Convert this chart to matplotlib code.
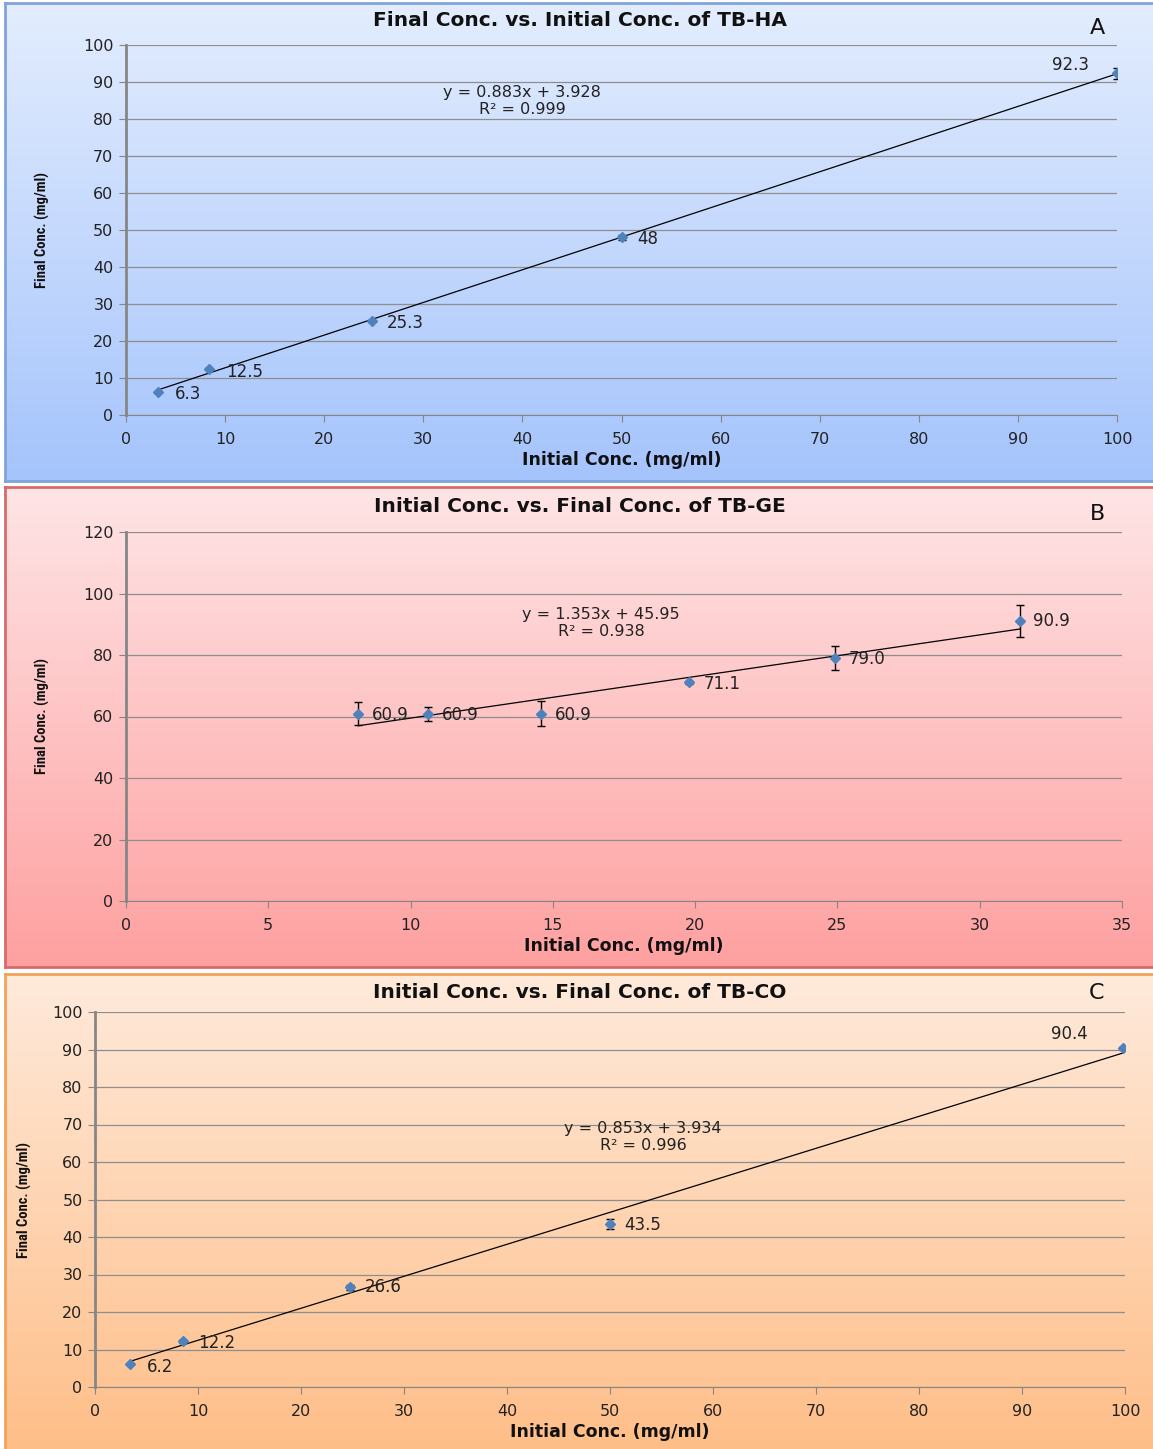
import numpy as np
import matplotlib
matplotlib.use("Agg")
import matplotlib.pyplot as plt
from matplotlib import font_manager
from matplotlib.colors import LinearSegmentedColormap

W, H = 1153, 1449

# panel A: TB-HA
x_a = [3.2, 8.4, 24.8, 50, 100]
y_a = [6.3, 12.5, 25.3, 48, 92.3]
err_a = [0.0, 0.0, 0.0, 0.6, 1.6]
fit_a = (0.883, 3.928, 0.999)
lbl_a = ["6.3", "12.5", "25.3", "48", "92.3"]

# panel B: TB-GE
x_b = [8.15, 10.6, 14.6, 19.8, 24.9, 31.4]
y_b = [60.9, 60.9, 60.9, 71.1, 79.0, 90.9]
err_b = [3.7, 2.3, 4.1, 0.5, 4.0, 5.2]
fit_b = (1.353, 45.95, 0.938)
lbl_b = ["60.9", "60.9", "60.9", "71.1", "79.0", "90.9"]

# panel C: TB-CO
x_c = [3.4, 8.5, 24.8, 50, 99.8]
y_c = [6.2, 12.2, 26.6, 43.5, 90.4]
err_c = [0.0, 0.4, 0.7, 1.3, 0.3]
fit_c = (0.853, 3.934, 0.996)
lbl_c = ["6.2", "12.2", "26.6", "43.5", "90.4"]

# narrow face for the y axis title, if one is installed
installed = {f.name for f in font_manager.fontManager.ttflist}
narrow = "DejaVu Sans"
for name in ["Liberation Sans Narrow", "DejaVu Sans Condensed", "Roboto Condensed"]:
    if name in installed:
        narrow = name
        break

fig = plt.figure(figsize=(W / 100, H / 100), dpi=100)
fig.patch.set_facecolor("white")


def frac(x0, y0, x1, y1):
    # pixel box (top-left origin) -> figure fraction rect
    return [x0 / W, 1 - y1 / H, (x1 - x0) / W, (y1 - y0) / H]


def panel_bg(box, top, bottom, edge):
    bg = fig.add_axes(frac(*box), zorder=0)
    cmap = LinearSegmentedColormap.from_list("g", [top, bottom])
    bg.imshow(np.linspace(0, 1, 256).reshape(-1, 1), aspect="auto",
              cmap=cmap, extent=[0, 1, 0, 1])
    bg.set_xticks([])
    bg.set_yticks([])
    for s in bg.spines.values():
        s.set_color(edge)
        s.set_linewidth(2)


def chart(box, xs, ys, errs, labels, fit, xlim, xticks, ylim, yticks,
          title, tag, title_y, tag_y, xlabel_y, ylabel_x, eq_pos, offsets):
    ax = fig.add_axes(frac(*box), zorder=2)
    ax.patch.set_alpha(0)
    ax.set_xlim(*xlim)
    ax.set_ylim(*ylim)
    ax.set_xticks(xticks)
    ax.set_yticks(yticks)
    ax.grid(axis="y", color="#8e8e8e", lw=0.9)
    ax.set_axisbelow(True)
    for s in ["top", "right"]:
        ax.spines[s].set_visible(False)
    ax.spines["left"].set_color("#868686")
    ax.spines["left"].set_linewidth(2)
    ax.spines["bottom"].set_color("#868686")
    ax.tick_params(axis="both", color="#868686", labelsize=11.5, length=5,
                   labelcolor="#222222")
    ax.tick_params(axis="y", pad=4)
    ax.tick_params(axis="x", pad=7)

    slope, icpt, r2 = fit
    tx = np.array([min(xs), max(xs)])
    ax.plot(tx, slope * tx + icpt, color="black", lw=0.9, zorder=3)
    ax.errorbar(xs, ys, yerr=errs, fmt="none", ecolor="black", elinewidth=1,
                capsize=3, capthick=1, zorder=4)
    ax.plot(xs, ys, "D", color="#4F81BD", markersize=5, mec="#4F81BD",
            zorder=5, ls="none")
    for x, y, t, off in zip(xs, ys, labels, offsets):
        ax.annotate(t, (x, y), xytext=off, textcoords="offset points",
                    ha="left" if off[0] > 0 else "right", va="center",
                    fontsize=12, color="#222222", zorder=6)

    eq = "y = %.3fx + %s" % (slope, ("%.3f" % icpt) if icpt < 10 else ("%.2f" % icpt))
    fig.text(eq_pos[0] / W, 1 - eq_pos[1] / H, eq, ha="center", va="center",
             fontsize=11.5, color="#222222")
    fig.text(eq_pos[0] / W, 1 - (eq_pos[1] + 17) / H, "R² = %.3f" % r2,
             ha="center", va="center", fontsize=11.5, color="#222222")

    fig.text(580 / W, 1 - title_y / H, title, ha="center", va="center",
             fontsize=14.5, fontweight="bold", color="#111111")
    fig.text(1097 / W, 1 - tag_y / H, tag, ha="center", va="center",
             fontsize=16, color="#111111")
    fig.text(((box[0] + box[2]) / 2) / W, 1 - xlabel_y / H,
             "Initial Conc. (mg/ml)", ha="center", va="center",
             fontsize=12.5, fontweight="bold", color="#111111")
    fig.text(ylabel_x / W, 1 - (box[1] + box[3]) / 2 / H, "Final Conc. (mg/ml)",
             rotation=90, ha="center", va="center", fontsize=10.5,
             family=narrow, fontweight="bold", color="#111111")
    return ax


panel_bg((5, 3, 1160, 481), "#E3EDFE", "#A5C4FC", "#7FA3DA")
panel_bg((5, 487, 1160, 967), "#FFE5E6", "#FEA0A0", "#D96A6A")
panel_bg((5, 974, 1160, 1452), "#FEEADB", "#FFBE88", "#F2A25A")

chart((126, 45, 1117, 415), x_a, y_a, err_a, lbl_a, fit_a,
      (0, 100), range(0, 101, 10), (0, 100), range(0, 101, 10),
      "Final Conc. vs. Initial Conc. of TB-HA", "A", 20, 28, 460, 42, (522, 92),
      [(12, -2), (12, -2), (11, -1), (11, -1), (-20, 6)])

chart((126, 532, 1122, 901), x_b, y_b, err_b, lbl_b, fit_b,
      (0, 35), range(0, 36, 5), (0, 120), range(0, 121, 20),
      "Initial Conc. vs. Final Conc. of TB-GE", "B", 507, 514, 946, 42, (601, 614),
      [(10, -1), (10, -1), (10, -1), (10, -1), (10, -1), (10, 0)])

chart((95, 1012, 1125, 1387), x_c, y_c, err_c, lbl_c, fit_c,
      (0, 100), range(0, 101, 10), (0, 100), range(0, 101, 10),
      "Initial Conc. vs. Final Conc. of TB-CO", "C", 993, 993, 1432, 24, (643, 1128),
      [(12, -2), (11, -1), (10, 0), (10, -1), (-25, 10)])

fig.savefig("out.png", dpi=100)
